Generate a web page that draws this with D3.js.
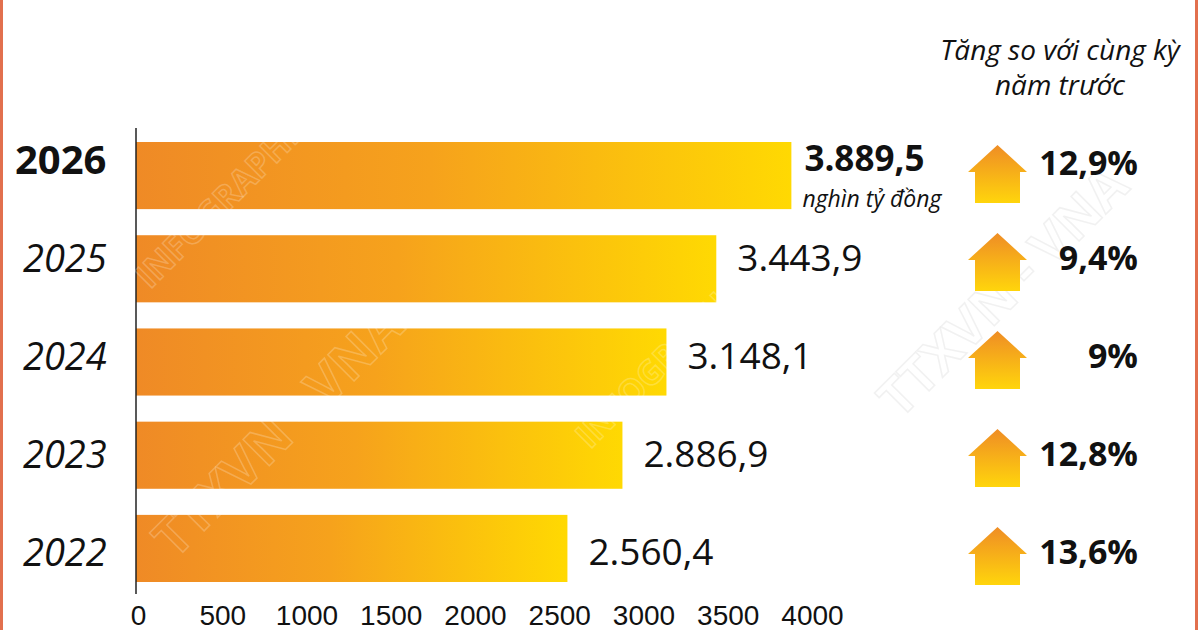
<!DOCTYPE html>
<html lang="vi">
<head>
  <meta charset="UTF-8">
  <title>Tăng so với cùng kỳ năm trước</title>
  <script src="https://d3js.org/d3.v7.min.js"></script>
  <style>
    body { margin: 0; background: #fff; }
    svg { display: block; font-family: "Open Sans", "Noto Sans", sans-serif; }
    .tick text { font-size: 28px; fill: #111; }
  </style>
</head>
<body>
  <div id="chart"></div>
  <script>
    // dữ liệu
    const years = ["2026", "2025", "2024", "2023", "2022"];
    const values = [3889.5, 3443.9, 3148.1, 2886.9, 2560.4];
    const growth = [12.9, 9.4, 9, 12.8, 13.6];
    const xTicks = [0, 500, 1000, 1500, 2000, 2500, 3000, 3500, 4000];
    const unitLabel = "nghìn tỷ đồng";
    const headerLines = ["Tăng so với cùng kỳ", "năm trước"];

    const dataset = years.map((y, i) => ({ year: y, value: values[i], growth: growth[i] }));

    const vn = d3.formatLocale({ decimal: ",", thousands: ".", grouping: [3], currency: ["", ""] });
    const fmtVal = vn.format(",.1f");
    const fmtPct = d => (Number.isInteger(d) ? d : vn.format(".1f")(d)) + "%";

    const W = 1200, H = 630;
    const svg = d3.select("#chart").append("svg")
      .attr("width", W).attr("height", H);

    const defs = svg.append("defs");
    const barGrad = defs.append("linearGradient").attr("id", "barGrad")
      .attr("x1", "0%").attr("x2", "100%").attr("y1", "0%").attr("y2", "0%");
    barGrad.append("stop").attr("offset", "0%").attr("stop-color", "#ef8a26");
    barGrad.append("stop").attr("offset", "45%").attr("stop-color", "#f6a21c");
    barGrad.append("stop").attr("offset", "100%").attr("stop-color", "#ffd902");

    const arrowGrad = defs.append("linearGradient").attr("id", "arrowGrad")
      .attr("x1", "0%").attr("x2", "0%").attr("y1", "0%").attr("y2", "100%");
    arrowGrad.append("stop").attr("offset", "0%").attr("stop-color", "#ef8d25");
    arrowGrad.append("stop").attr("offset", "100%").attr("stop-color", "#ffd50c");

    // khung
    svg.append("rect").attr("x", 0).attr("y", 0).attr("width", 3).attr("height", H).attr("fill", "#e2704e");
    svg.append("rect").attr("x", 1195).attr("y", 0).attr("width", 3).attr("height", H).attr("fill", "#e2704e");

    const x = d3.scaleLinear().domain([0, 4000]).range([136, 810]);
    const y = d3.scaleBand().domain(years).range([142, 582]).paddingInner(0.28).paddingOuter(0);
    const rowY = d3.scalePoint().domain(years).range([160, 552]);

    // trục x (chỉ nhãn)
    svg.append("g")
      .attr("transform", "translate(2, 594)")
      .call(d3.axisBottom(x).tickValues(xTicks).tickSize(0).tickPadding(11).tickFormat(d3.format("d")))
      .call(g => g.select(".domain").remove());

    // thanh
    svg.selectAll(".bar")
      .data(dataset)
      .enter()
      .append("rect")
      .attr("class", "bar")
      .attr("x", x(0))
      .attr("y", d => y(d.year))
      .attr("width", d => x(d.value) - x(0))
      .attr("height", y.bandwidth())
      .attr("fill", "url(#barGrad)");

    // trục y
    svg.append("line")
      .attr("x1", x(0)).attr("x2", x(0))
      .attr("y1", 128).attr("y2", 594)
      .attr("stroke", "#222").attr("stroke-width", 1.5);

    // watermark
    const wm = svg.append("g").attr("fill", "none").attr("stroke", "#fff").attr("stroke-opacity", 0.22)
      .attr("font-weight", "bold").attr("font-size", 34).attr("stroke-width", 1.5);
    wm.append("text").attr("transform", "translate(150,290) rotate(-45)").text("INFOGRAPHICS");
    wm.append("text").attr("transform", "translate(175,560) rotate(-45)").attr("font-size", 52).text("TTXVN - VNA");
    wm.append("text").attr("transform", "translate(590,450) rotate(-45)").text("INFOGRAPHICS");
    wm.append("text").attr("transform", "translate(900,420) rotate(-45)").attr("font-size", 52).attr("stroke", "#e4e4e4").attr("stroke-opacity", 0.5).text("TTXVN - VNA");

    // nhãn năm
    svg.selectAll(".year")
      .data(dataset)
      .enter()
      .append("text")
      .attr("class", "year")
      .attr("x", d => d.year === "2026" ? 15 : 23)
      .attr("y", d => rowY(d.year))
      .attr("dy", "0.36em")
      .attr("font-size", d => d.year === "2026" ? 40 : 38)
      .attr("font-weight", d => d.year === "2026" ? "bold" : "normal")
      .attr("font-style", d => d.year === "2026" ? "normal" : "italic")
      .attr("fill", "#111")
      .text(d => d.year);

    // nhãn giá trị
    svg.selectAll(".val")
      .data(dataset)
      .enter()
      .append("text")
      .attr("class", "val")
      .attr("x", d => x(d.value) + (d.year === "2026" ? 13 : 21))
      .attr("y", d => rowY(d.year) - (d.year === "2026" ? 2 : 0))
      .attr("dy", "0.36em")
      .attr("font-size", d => d.year === "2026" ? 35 : 37)
      .attr("font-weight", d => d.year === "2026" ? "bold" : "normal")
      .attr("fill", "#111")
      .text(d => fmtVal(d.value));

    svg.append("text")
      .attr("x", x(values[0]) + 11)
      .attr("y", 207)
      .attr("font-size", 23)
      .attr("font-style", "italic")
      .attr("fill", "#111")
      .text(unitLabel);

    // tiêu đề cột tăng trưởng
    svg.append("text")
      .attr("x", 1060).attr("y", 60)
      .attr("text-anchor", "middle")
      .attr("font-size", 28).attr("font-style", "italic").attr("fill", "#111")
      .selectAll("tspan")
      .data(headerLines)
      .enter()
      .append("tspan")
      .attr("x", 1060)
      .attr("dy", (d, i) => i === 0 ? 0 : 35)
      .text(d => d);

    // mũi tên
    const arrowPath = "M0,-29 L29.5,-2 L22.5,-2 L22.5,29 L-22.5,29 L-22.5,-2 L-29.5,-2 Z";
    svg.selectAll(".arrow")
      .data(dataset)
      .enter()
      .append("path")
      .attr("class", "arrow")
      .attr("d", arrowPath)
      .attr("transform", d => `translate(997.5, ${rowY(d.year) + (d.year === "2026" ? 14 : 4)})`)
      .attr("fill", "url(#arrowGrad)");

    // phần trăm
    svg.selectAll(".pct")
      .data(dataset)
      .enter()
      .append("text")
      .attr("class", "pct")
      .attr("x", 1138)
      .attr("y", d => rowY(d.year) + (d.year === "2026" ? 3 : 0))
      .attr("dy", "0.36em")
      .attr("text-anchor", "end")
      .attr("font-size", 34)
      .attr("font-weight", "bold")
      .attr("fill", "#111")
      .text(d => fmtPct(d.growth));
  </script>
</body>
</html>
